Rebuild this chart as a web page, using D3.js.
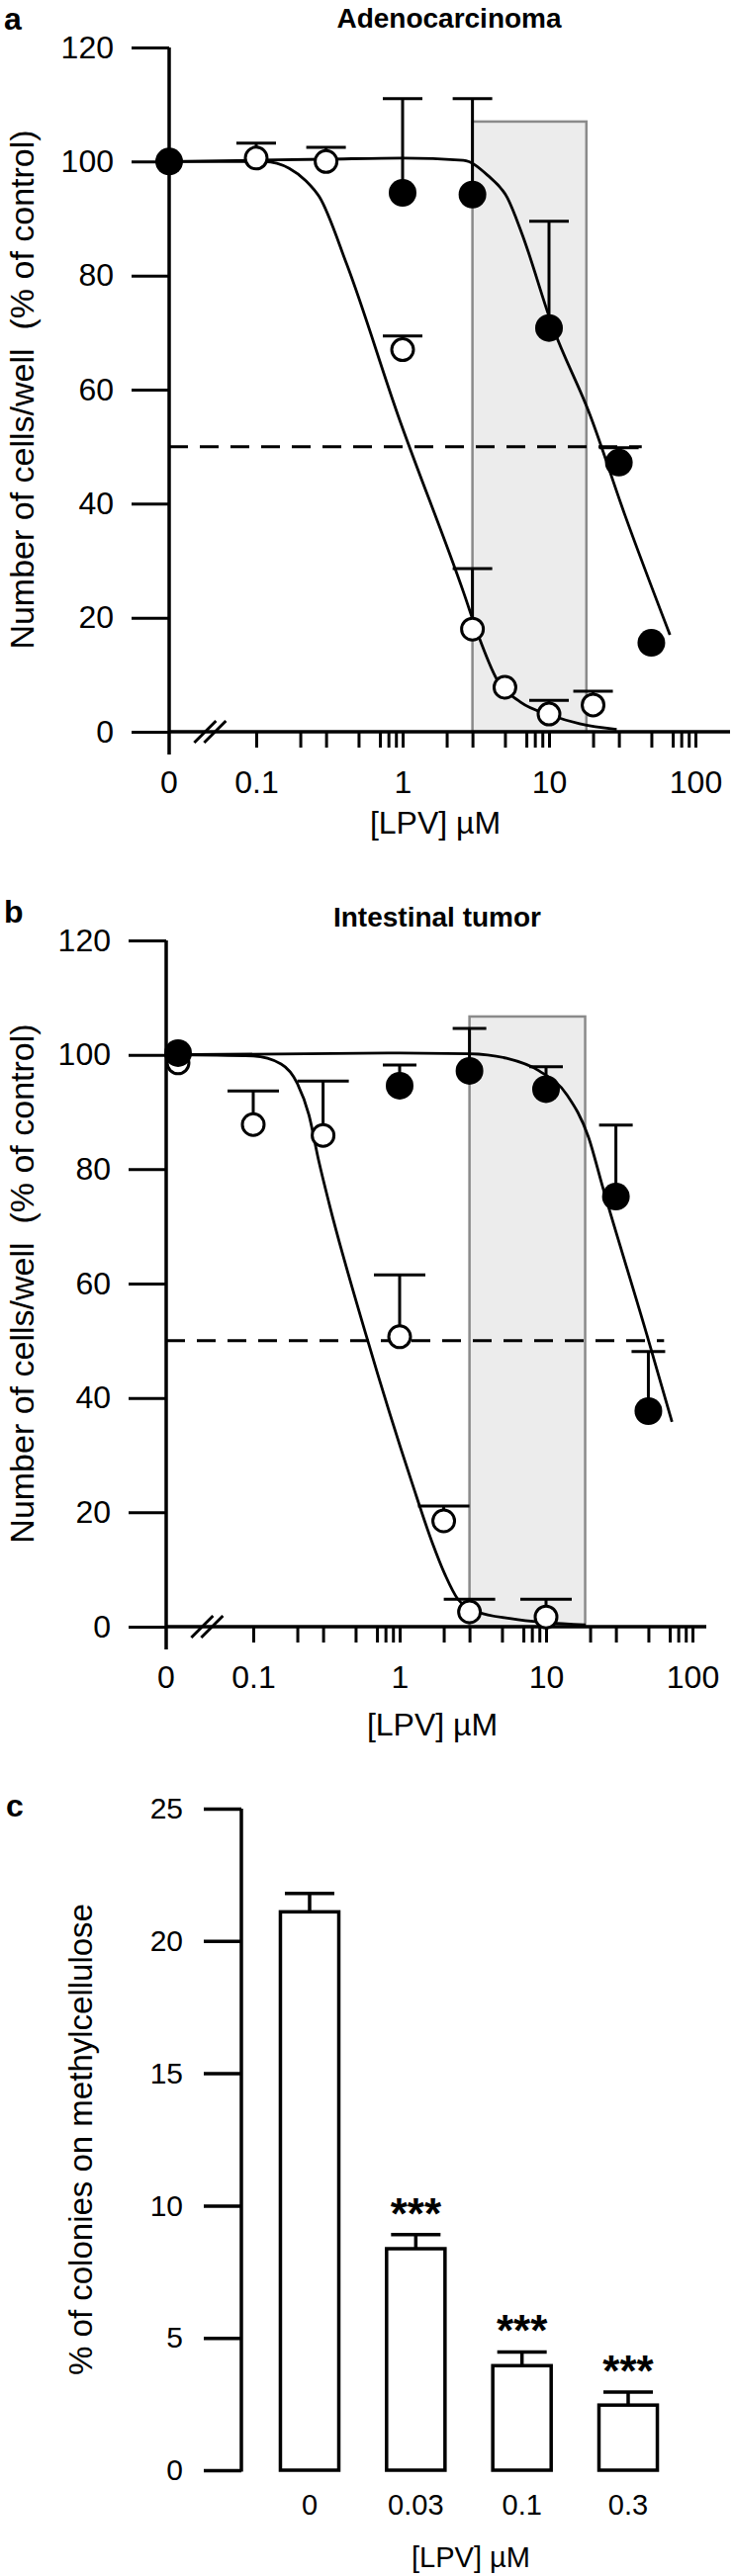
<!DOCTYPE html>
<html>
<head>
<meta charset="utf-8">
<script src="https://cdn.jsdelivr.net/npm/d3@7/dist/d3.min.js"></script>
<style>
  body { margin: 0; background: #fff; }
  svg { display: block; font-family: "Liberation Sans", Arial, Helvetica, sans-serif; }
</style>
</head>
<body>
<div id="chart"></div>
<script>
// ---- data ----

// shared axis ticks for the dose-response panels
const countTicks = [0, 20, 40, 60, 80, 100, 120];
const doseLabels = [0.1, 1, 10, 100];
const minorSteps = [2, 3, 5, 7, 8, 9];

// a: adenocarcinoma
const adenoOpenDose = [0, 0.1, 0.3, 1, 3, 5, 10, 20];
const adenoOpenMean = [100, 100.6, 100, 67, 18, 7.8, 3.1, 4.7];
const adenoOpenTop = [null, 103.2, 102.5, 69.4, 28.6, null, 5.5, 7.1];
const adenoFilledDose = [0, 1, 3, 10, 30, 50];
const adenoFilledMean = [100, 94.5, 94.2, 70.8, 47.2, 15.6];
const adenoFilledTop = [null, 111, 111, 89.5, 49.8, null];
// fitted curves as [dose, %]
const adenoOpenFit = [[0, 100], [0.114, 100], [0.168, 98.8], [0.219, 96.6], [0.27, 93.8], [0.415, 82],
  [0.93, 55.5], [2.62, 24.3], [3.3, 16.8], [4.4, 9.2], [6.4, 5.2], [10.3, 2.9], [16.2, 1.4], [29, 0.4]];
const adenoFilledFit = [[0, 100], [0.3, 100.4], [1, 100.6], [2.6, 100.2], [3.8, 97.6], [5.2, 93.6],
  [6.5, 87.5], [10.6, 71], [19.1, 55.5], [33, 38], [67, 17]];
const adenoHalfLine = [0, 43];
const adenoShade = [3, 18, 107];

// b: intestinal tumor
const intestOpenDose = [0, 0.1, 0.3, 1, 2, 3, 10];
const intestOpenMean = [98.6, 87.8, 85.9, 50.7, 18.5, 2.6, 1.7];
const intestOpenTop = [null, 93.7, 95.4, 61.5, 21.1, 4.8, 4.8];
const intestFilledDose = [0, 1, 3, 10, 30, 50];
const intestFilledMean = [100.3, 94.6, 97.2, 94, 75.2, 37.7];
const intestFilledTop = [null, 98.2, 104.6, 97.9, 87.7, 48.1];
const intestOpenFit = [[0, 100], [0.1, 99.8], [0.155, 98.4], [0.2, 95], [0.24, 89.5], [0.28, 81.5],
  [0.33, 74], [0.59, 51], [1.22, 25], [1.67, 14.7], [2.05, 9], [2.5, 4.8], [3.4, 2.6], [5.8, 1.4], [18.6, 0.3]];
const intestFilledFit = [[0, 100], [1, 100.3], [3, 100.2], [5.37, 99.4], [8.96, 97.2], [13.9, 93],
  [19.5, 85.6], [24.3, 77], [48.9, 51], [72.5, 35.8]];
const intestHalfLine = [0, 64];
const intestShade = [3, 18.5, 106.7];

// c: colonies on methylcellulose
const colonyDose = ['0', '0.03', '0.1', '0.3'];
const colonyMean = [21.1, 8.37, 3.95, 2.46];
const colonyTop = [21.8, 8.9, 4.47, 2.95];
const colonySig = ['', '***', '***', '***'];
const colonyTicks = [0, 5, 10, 15, 20, 25];

// ---- drawing ----

const W = 741, H = 2605;
const svg = d3.select('#chart').append('svg').attr('width', W).attr('height', H);

const curveLine = d3.line().curve(d3.curveMonotoneX);

function drawDoseResponse(p) {
    const g = svg.append('g');

    const xLog = d3.scaleLog().domain([0.1, 100]).range([p.x01, p.x01 + 3 * p.decade]);
    const y = d3.scaleLinear().domain([0, 120]).range([p.y0, p.y0 - 120 * p.unit]);
    const xPos = d => (d === 0 ? p.zeroX : xLog(d));
    const axisY = y(0);

    // shaded window
    g.append('rect')
        .attr('x', xLog(p.shade[0]))
        .attr('y', y(p.shade[2]))
        .attr('width', xLog(p.shade[1]) - xLog(p.shade[0]))
        .attr('height', axisY - y(p.shade[2]))
        .attr('fill', '#ececec')
        .attr('stroke', '#8a8a8a')
        .attr('stroke-width', 2.5);

    // 50% reference
    g.append('line')
        .attr('x1', xPos(p.half[0])).attr('x2', xPos(p.half[1]))
        .attr('y1', y(50)).attr('y2', y(50))
        .attr('stroke', '#000').attr('stroke-width', 3)
        .attr('stroke-dasharray', '19 12');

    // y axis
    g.append('g')
        .attr('transform', `translate(${p.zeroX},0)`)
        .call(d3.axisLeft(y).tickValues(countTicks).tickSize(38).tickPadding(18))
        .call(a => a.select('.domain').remove())
        .call(a => a.selectAll('line').attr('stroke-width', 3))
        .call(a => a.selectAll('text').attr('font-size', 32))
        .attr('font-family', null).attr('font-size', null);

    // x axis, log part
    const minor = [];
    [0.1, 1, 10].forEach(d => minorSteps.forEach(m => minor.push(d * m)));
    g.append('g')
        .attr('transform', `translate(0,${axisY})`)
        .call(d3.axisBottom(xLog).tickValues(doseLabels.concat(minor)).tickSize(16).tickPadding(23)
            .tickFormat(d => (doseLabels.includes(d) ? d3.format('~g')(d) : '')))
        .call(a => a.select('.domain').remove())
        .call(a => a.selectAll('line').attr('stroke-width', 3))
        .call(a => a.selectAll('text').attr('font-size', 32))
        .attr('font-family', null).attr('font-size', null);

    g.append('text')
        .attr('x', p.zeroX).attr('y', axisY + 39)
        .attr('dy', '0.71em').attr('text-anchor', 'middle')
        .attr('font-size', 32).text('0');

    // axis lines
    g.append('line')
        .attr('x1', p.zeroX).attr('x2', p.zeroX)
        .attr('y1', y(120)).attr('y2', axisY + 23)
        .attr('stroke', '#000').attr('stroke-width', 3.5);
    g.append('line')
        .attr('x1', p.zeroX).attr('x2', p.xEnd)
        .attr('y1', axisY).attr('y2', axisY)
        .attr('stroke', '#000').attr('stroke-width', 3.5);

    // axis break
    const bx = p.zeroX + (p.x01 - p.zeroX) * 0.47;
    [-5, 5].forEach(dx => {
        g.append('line')
            .attr('x1', bx + dx - 11).attr('y1', axisY + 11)
            .attr('x2', bx + dx + 11).attr('y2', axisY - 11)
            .attr('stroke', '#000').attr('stroke-width', 3);
    });

    // fitted curves
    [p.openFit, p.filledFit].forEach(fit => {
        g.append('path')
            .attr('d', curveLine(fit.map(([d, v]) => [xPos(d), y(v)])))
            .attr('fill', 'none').attr('stroke', '#000').attr('stroke-width', 2.8);
    });

    const markerX = d => xPos(d) + (d === 0 ? p.ctrlShift : 0);

    // series: open first so filled sits on top
    const series = [
        { dose: p.openDose, mean: p.openMean, top: p.openTop, filled: false, cap: p.openCap },
        { dose: p.filledDose, mean: p.filledMean, top: p.filledTop, filled: true, cap: p.filledCap },
    ];
    series.forEach(s => {
        const pts = s.dose.map((d, i) => ({ d, v: s.mean[i], t: s.top[i] }));
        const bars = g.append('g').attr('stroke', '#000').attr('stroke-width', 3);
        pts.filter(q => q.t !== null).forEach(q => {
            const cx = markerX(q.d);
            bars.append('line').attr('x1', cx).attr('x2', cx).attr('y1', y(q.v)).attr('y2', y(q.t));
            bars.append('line').attr('x1', cx - s.cap).attr('x2', cx + s.cap).attr('y1', y(q.t)).attr('y2', y(q.t));
        });
        g.append('g').selectAll('circle')
            .data(pts)
            .join('circle')
            .attr('cx', q => markerX(q.d))
            .attr('cy', q => y(q.v))
            .attr('r', s.filled ? 14 : 11)
            .attr('fill', s.filled ? '#000' : '#fff')
            .attr('stroke', s.filled ? 'none' : '#000')
            .attr('stroke-width', 3);
    });

    // labels
    g.append('text')
        .attr('x', (p.zeroX + p.x01 + 3 * p.decade) / 2 + 3).attr('y', axisY + p.xTitleDy)
        .attr('text-anchor', 'middle').attr('font-size', 32).text('[LPV] µM');
    g.append('text')
        .attr('transform', `translate(34,${y(60)}) rotate(-90)`)
        .attr('text-anchor', 'middle').attr('font-size', 34)
        .style('white-space', 'pre')
        .text('Number of cells/well  (% of control)');
    g.append('text')
        .attr('x', p.titleX).attr('y', p.titleY)
        .attr('text-anchor', 'middle').attr('font-size', 28).attr('font-weight', 'bold')
        .text(p.title);
    g.append('text')
        .attr('x', 4).attr('y', p.letterY)
        .attr('font-size', 32).attr('font-weight', 'bold')
        .text(p.letter);
}

drawDoseResponse({
    letter: 'a', letterY: 30, title: 'Adenocarcinoma', titleX: 454, titleY: 28,
    zeroX: 171, x01: 259, decade: 148, xEnd: 738, y0: 740, unit: 5.767, xTitleDy: 103, ctrlShift: 0,
    openCap: 20, filledCap: 20,
    openDose: adenoOpenDose, openMean: adenoOpenMean, openTop: adenoOpenTop,
    filledDose: adenoFilledDose, filledMean: adenoFilledMean, filledTop: adenoFilledTop,
    openFit: adenoOpenFit, filledFit: adenoFilledFit, half: adenoHalfLine, shade: adenoShade,
});

drawDoseResponse({
    letter: 'b', letterY: 933, title: 'Intestinal tumor', titleX: 442, titleY: 937,
    zeroX: 168, x01: 256, decade: 148, xEnd: 714, y0: 1645, unit: 5.783, xTitleDy: 110, ctrlShift: 12,
    openCap: 26, filledCap: 17,
    openDose: intestOpenDose, openMean: intestOpenMean, openTop: intestOpenTop,
    filledDose: intestFilledDose, filledMean: intestFilledMean, filledTop: intestFilledTop,
    openFit: intestOpenFit, filledFit: intestFilledFit, half: intestHalfLine, shade: intestShade,
});

// ---- panel c: bar chart ----
(function drawColonies() {
    const g = svg.append('g');
    const yAxisX = 244;
    const y = d3.scaleLinear().domain([0, 25]).range([2498, 1829]);
    const x = d3.scaleBand().domain(colonyDose).range([262, 686]).paddingInner(0.45).paddingOuter(0.2);

    g.append('g')
        .attr('transform', `translate(${yAxisX},0)`)
        .call(d3.axisLeft(y).tickValues(colonyTicks).tickSize(38).tickPadding(21))
        .call(a => a.select('.domain').remove())
        .call(a => a.selectAll('line').attr('stroke-width', 3.5))
        .call(a => a.selectAll('text').attr('font-size', 30))
        .attr('font-family', null).attr('font-size', null);

    g.append('line')
        .attr('x1', yAxisX).attr('x2', yAxisX)
        .attr('y1', y(25)).attr('y2', y(0) + 1.5)
        .attr('stroke', '#000').attr('stroke-width', 3.5);

    const rows = colonyDose.map((d, i) => ({ d, v: colonyMean[i], t: colonyTop[i], s: colonySig[i] }));

    const err = g.append('g').attr('stroke', '#000').attr('stroke-width', 3.5);
    rows.forEach(r => {
        const cx = x(r.d) + x.bandwidth() / 2;
        err.append('line').attr('x1', cx).attr('x2', cx).attr('y1', y(r.v)).attr('y2', y(r.t));
        err.append('line').attr('x1', cx - 25).attr('x2', cx + 25).attr('y1', y(r.t)).attr('y2', y(r.t));
    });

    g.append('g').selectAll('rect')
        .data(rows)
        .join('rect')
        .attr('x', r => x(r.d))
        .attr('y', r => y(r.v))
        .attr('width', x.bandwidth())
        .attr('height', r => y(0) - y(r.v))
        .attr('fill', '#fff').attr('stroke', '#000').attr('stroke-width', 3.5);

    g.append('g').selectAll('text')
        .data(rows.filter(r => r.s))
        .join('text')
        .attr('x', r => x(r.d) + x.bandwidth() / 2)
        .attr('y', r => y(r.t) - 6)
        .attr('text-anchor', 'middle').attr('font-size', 44).attr('font-weight', 'bold')
        .text(r => r.s);

    g.append('g').selectAll('text')
        .data(rows)
        .join('text')
        .attr('x', r => x(r.d) + x.bandwidth() / 2)
        .attr('y', 2543)
        .attr('text-anchor', 'middle').attr('font-size', 29)
        .text(r => r.d);

    g.append('text')
        .attr('x', 476).attr('y', 2596)
        .attr('text-anchor', 'middle').attr('font-size', 29).text('[LPV] µM');

    g.append('text')
        .attr('transform', `translate(93,${y(12.5)}) rotate(-90)`)
        .attr('text-anchor', 'middle').attr('font-size', 33)
        .text('% of colonies on methylcellulose');

    g.append('text')
        .attr('x', 6).attr('y', 1837)
        .attr('font-size', 32).attr('font-weight', 'bold').text('c');
})();
</script>
</body>
</html>
